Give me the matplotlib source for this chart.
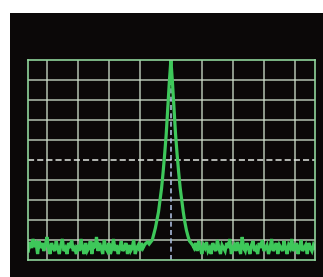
import numpy as np
import matplotlib
matplotlib.use("Agg")
import matplotlib.pyplot as plt

# Trace values in screen divisions (0..10), sampled every 0.05 div from -4.6 to 4.65
left_noise = [0.45,0.9,0.6,1.05,0.75,0.85,0.3,0.95,0.6,0.85,
              0.45,0.75,1.15,0.6,0.3,0.85,0.6,0.45,0.95,0.6,
              0.3,0.75,1.05,0.45,0.6,0.3,0.85,0.6,1.0,0.45,
              0.6,0.3,0.75,0.45,1.05,0.6,0.3,0.85,0.45,0.6,
              0.95,0.3,0.75,0.6,1.15,0.45,0.85,0.6,0.3,1.0,
              0.6,0.45,0.85,0.3,0.6,1.05,0.45,0.75,0.3,0.6,
              0.95,0.45,0.6,0.85,0.3,0.75,0.45,0.6,1.0,0.3,
              0.6,0.75,0.45,0.85,0.6,0.75,0.85,0.9]
peak = [0.8,0.9,1.0,1.3,1.6,2.0,2.4,3.0,3.6,4.4,5.3,6.3,7.6,8.9,10.0,
        8.9,7.6,6.3,5.3,4.4,3.6,3.0,2.4,1.9,1.5,1.2,0.95,0.85,0.75]
right_noise = [0.6,0.85,0.45,0.95,0.6,0.3,0.75,0.6,0.9,0.45,
               0.6,0.3,0.85,0.6,0.45,1.0,0.6,0.3,0.75,0.6,
               0.45,0.85,0.6,1.05,0.3,0.6,0.75,0.45,0.9,0.6,
               0.3,1.15,0.6,0.45,0.85,0.6,0.3,0.75,0.95,0.45,
               0.6,0.3,0.85,0.6,1.0,0.45,0.6,0.75,0.3,0.6,
               1.05,0.45,0.6,0.85,0.3,0.75,0.6,0.45,0.95,0.6,
               0.3,0.75,0.6,1.05,0.45,0.6,0.85,0.3,0.6,1.0,
               0.45,0.6,0.75,0.3,0.85,0.6,0.45,0.75,0.6]
trace = np.array(left_noise + peak + right_noise)
freq = np.linspace(-4.6, 4.65, len(trace))

vgrid = [-4, -3, -2, -1, 1, 2, 3, 4]
hgrid = [1, 2, 3, 4, 6, 7, 8, 9]

fig = plt.figure(figsize=(3.23, 2.77), dpi=100)
fig.patch.set_facecolor("white")

screen = fig.add_axes([10/323, 0, 1 - 10/323, 264/277])
screen.set_facecolor("#0b0808")
screen.set_xticks([]); screen.set_yticks([])
for s in screen.spines.values():
    s.set_visible(False)

ax = fig.add_axes([28/323, 17/277, 287/323, 200/277])
ax.set_facecolor("#0b0808")
ax.set_xlim(-4.61, 4.65)
ax.set_ylim(0, 10)
ax.set_xticks([]); ax.set_yticks([])
for s in ax.spines.values():
    s.set_color("#8fd49a")
    s.set_linewidth(1.2)

gcol = "#d0e0cc"
for v in vgrid:
    ax.axvline(v, color=gcol, lw=1.1, alpha=0.85)
for h in hgrid:
    ax.axhline(h, color=gcol, lw=1.1, alpha=0.85)
ax.axvline(0, color="#a8b8d8", lw=1.2, ls=(0, (3, 2)))
ax.axhline(5, color="#e0e6e0", lw=1.1, ls=(0, (4, 2)))

ax.plot(freq, trace, color="#3ec85a", lw=2.3, solid_joinstyle="miter")

fig.savefig("out.png", dpi=100, facecolor="white")
